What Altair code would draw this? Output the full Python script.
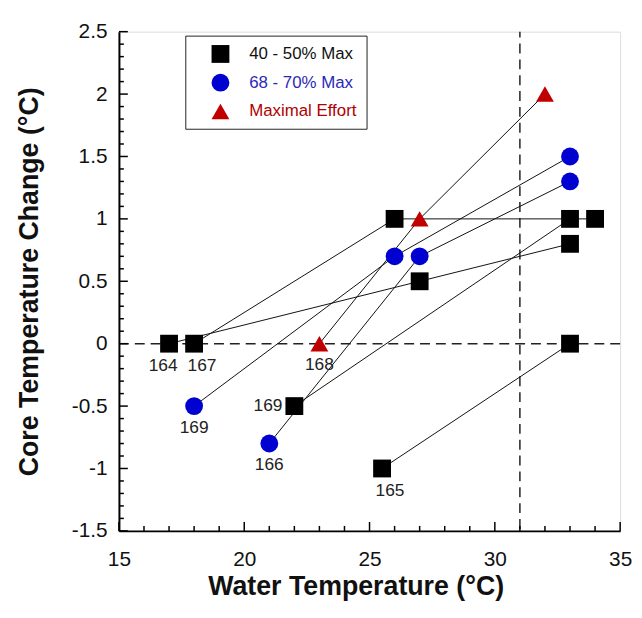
import altair as alt
import pandas as pd

# ---------------- data ----------------
groups = ["40 - 50% Max", "68 - 70% Max", "Maximal Effort"]

# 40 - 50% Max (squares)
sq164_x = [17, 27, 33]
sq164_y = [0.0, 0.5, 0.8]
sq167_x = [18, 26, 34]
sq167_y = [0.0, 1.0, 1.0]
sq169_x = [22, 33]
sq169_y = [-0.5, 1.0]
sq165_x = [25.5, 33]
sq165_y = [-1.0, 0.0]
# 68 - 70% Max (circles)
ci169_x = [18, 26, 33]
ci169_y = [-0.5, 0.7, 1.5]
ci166_x = [21, 27, 33]
ci166_y = [-0.8, 0.7, 1.3]
# Maximal Effort (triangles)
tr168_x = [23, 27, 32]
tr168_y = [0.0, 1.0, 2.0]

# subject labels (below the marker, shifted left / centred / shifted right)
bl_text = ["164"]
bl_x = [17]
bl_y = [0.0]
bc_text = ["168", "169", "166"]
bc_x = [23, 18, 21]
bc_y = [0.0, -0.5, -0.8]
br_text = ["167", "165"]
br_x = [18, 25.5]
br_y = [0.0, -1.0]
# label left of the marker
left_text = ["169"]
left_x = [22]
left_y = [-0.5]

# reference lines
ref_y = [0]
ref_x = [31]

# axis ticks
x_major = [15, 20, 25, 30, 35]
x_minor = [v for v in range(16, 35) if v % 5 != 0]
y_major = [-1.5, -1.0, -0.5, 0.0, 0.5, 1.0, 1.5, 2.0, 2.5]
y_minor = [round(-1.5 + 0.1 * i, 1) for i in range(41) if i % 5 != 0]

# ---------------- build tables ----------------
chains = [
    ("sq164", groups[0], sq164_x, sq164_y),
    ("sq167", groups[0], sq167_x, sq167_y),
    ("sq169", groups[0], sq169_x, sq169_y),
    ("sq165", groups[0], sq165_x, sq165_y),
    ("ci169", groups[1], ci169_x, ci169_y),
    ("ci166", groups[1], ci166_x, ci166_y),
    ("tr168", groups[2], tr168_x, tr168_y),
]
rows = []
for cid, g, xs, ys in chains:
    for i, (xv, yv) in enumerate(zip(xs, ys)):
        rows.append({"chain": cid, "group": g, "seq": i, "x": xv, "y": yv})
df = pd.DataFrame(rows)

W, H = 506, 504
FONT = "Liberation Sans"

xscale = alt.Scale(domain=[15, 35], nice=False, zero=False)
yscale = alt.Scale(domain=[-1.5, 2.5], nice=False, zero=False)

xaxis = alt.Axis(
    values=x_major, ticks=False, grid=False, domainColor="#000", domainWidth=2,
    labelFont=FONT, labelFontSize=21, labelColor="#111", labelPadding=18,
    labelFlush=False, title="Water Temperature (°C)", titleFont=FONT,
    titleFontSize=27, titleFontWeight="bold", titleColor="#111", titlePadding=4,
    titleX=239,
)
yaxis = alt.Axis(
    values=y_major, ticks=False, grid=False, domainColor="#000", domainWidth=2,
    labelFont=FONT, labelFontSize=21, labelColor="#111", labelPadding=12,
    labelExpr="datum.value + ''", labelFlush=False,
    title="Core Temperature Change (°C)", titleFont=FONT, titleFontSize=27,
    titleFontWeight="bold", titleColor="#111", titlePadding=28,
)

X = alt.X("x:Q", scale=xscale, axis=xaxis)
Y = alt.Y("y:Q", scale=yscale, axis=yaxis)

label_color_expr = (
    "datum.value == '68 - 70% Max' ? '#2a2ab8' : "
    "(datum.value == 'Maximal Effort' ? '#b00000' : '#111111')"
)
legend = alt.Legend(
    title=None, orient="none", legendX=67, legendY=4, padding=9.5,
    strokeColor="#222", fillColor="#ffffff", symbolSize=290, symbolOffset=17,
    labelOffset=20, rowPadding=11, labelFont=FONT, labelFontSize=17,
    labelColor={"expr": label_color_expr},
    symbolStrokeWidth=0, symbolOpacity=1,
)

hline = alt.Chart(pd.DataFrame({"v": ref_y})).mark_rule(
    strokeDash=[10, 6], color="#222", strokeWidth=1.5
).encode(y=alt.Y("v:Q", scale=yscale, axis=yaxis))
vline = alt.Chart(pd.DataFrame({"v": ref_x})).mark_rule(
    strokeDash=[10, 6], strokeDashOffset=4, color="#222", strokeWidth=1.5
).encode(x=alt.X("v:Q", scale=xscale, axis=xaxis))

lines = alt.Chart(df).mark_line(color="#111", strokeWidth=1).encode(
    x=X, y=Y, detail="chain:N", order="seq:Q"
)

points = alt.Chart(df).mark_point(filled=True, opacity=1, strokeWidth=0).encode(
    x=X, y=Y,
    color=alt.Color("group:N", scale=alt.Scale(domain=groups, range=["#000000", "#0000d0", "#c00000"]), legend=legend),
    shape=alt.Shape("group:N", scale=alt.Scale(domain=groups, range=["square", "circle", "triangle-up"]), legend=legend),
    size=alt.Size("group:N", scale=alt.Scale(domain=groups, range=[324, 324, 420]), legend=None),
)


def label_layer(xs, ys, texts, **kw):
    d = pd.DataFrame({"x": xs, "y": ys, "t": texts})
    return alt.Chart(d).mark_text(
        fontSize=17.5, font=FONT, color="#222", baseline="middle", **kw
    ).encode(x=X, y=Y, text="t:N")


lab_bl = label_layer(bl_x, bl_y, bl_text, dy=23, dx=-6)
lab_bc = label_layer(bc_x, bc_y, bc_text, dy=22)
lab_br = label_layer(br_x, br_y, br_text, dy=23, dx=8)
lab_left = label_layer(left_x, left_y, left_text, dx=-12, align="right")

# inward axis ticks
xt_major = alt.Chart(pd.DataFrame({"v": x_major})).mark_rule(color="#000", strokeWidth=1.5).encode(
    x=alt.X("v:Q", scale=xscale, axis=xaxis), y=alt.value(H), y2=alt.value(H - 9))
xt_minor = alt.Chart(pd.DataFrame({"v": x_minor})).mark_rule(color="#000", strokeWidth=1.5).encode(
    x=alt.X("v:Q", scale=xscale, axis=xaxis), y=alt.value(H), y2=alt.value(H - 5))
yt_major = alt.Chart(pd.DataFrame({"v": y_major})).mark_rule(color="#000", strokeWidth=1.5).encode(
    y=alt.Y("v:Q", scale=yscale, axis=yaxis), x=alt.value(0), x2=alt.value(9))
yt_minor = alt.Chart(pd.DataFrame({"v": y_minor})).mark_rule(color="#000", strokeWidth=1.5).encode(
    y=alt.Y("v:Q", scale=yscale, axis=yaxis), x=alt.value(0), x2=alt.value(5))

chart = alt.layer(
    hline, vline, lines, points, lab_bl, lab_bc, lab_br, lab_left,
    xt_major, xt_minor, yt_major, yt_minor
).properties(
    width=W, height=H,
    autosize=alt.AutoSizeParams(type="none"),
    padding={"left": 112, "top": 21, "right": 14, "bottom": 80},
    background="#ffffff",
).configure_view(stroke=None).configure(font=FONT)

chart.save("out.html", embed_options={"renderer": "svg", "actions": False})
